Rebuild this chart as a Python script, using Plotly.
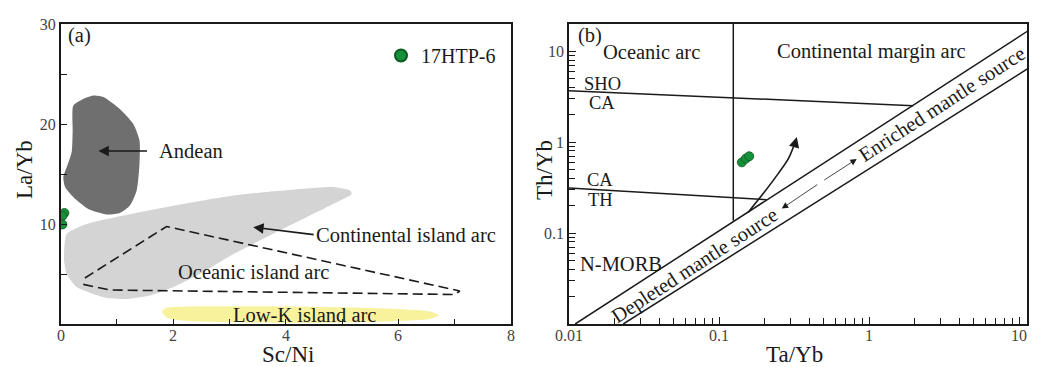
import numpy as np
import plotly.graph_objects as go

FONT = "Liberation Serif, Times New Roman, serif"
INK = "#1a1a1a"
TICK_INK = "#444444"
GREEN = "#17903a"
GREEN_EDGE = "#0b5a22"

# ---------------- panel (a): La/Yb vs Sc/Ni ----------------
sample_scni = [0.065, 0.03, 0.03]
sample_layb = [11.1, 10.8, 9.95]

andean_x = [0.224, 0.213, 0.195, 0.118, 0.047, 0.077, 0.224, 0.49, 0.82, 1.05,
            1.23, 1.35, 1.40, 1.40, 1.29, 1.05, 0.76, 0.58, 0.40, 0.224]
andean_y = [21.85, 19.35, 17.2, 15.85, 14.7, 13.7, 12.7, 11.5, 10.95, 11.1,
            11.85, 13.35, 16.0, 18.35, 20.0, 21.5, 22.7, 22.85, 22.5, 21.85]

cont_arc_x = [0.065, 0.107, 0.46, 0.99, 1.88, 3.07, 4.25, 4.84, 5.14, 5.17, 4.84,
              4.25, 3.66, 3.07, 2.47, 2.0, 1.59, 1.17, 0.82, 0.58, 0.28, 0.107, 0.06, 0.065]
cont_arc_y = [7.68, 9.02, 10.0, 10.7, 11.7, 12.85, 13.5, 13.7, 13.35, 13.0, 12.0,
              10.35, 8.7, 7.0, 5.0, 3.7, 2.85, 2.5, 2.6, 3.0, 3.7, 5.0, 6.35, 7.68]

ocean_arc_x = [0.43, 1.88, 7.09, 7.0, 0.875, 0.37]
ocean_arc_y = [4.6, 9.75, 3.3, 2.95, 3.4, 4.0]

lowk_x = [1.80, 1.85, 2.1, 3.0, 4.0, 5.0, 6.0, 6.55, 6.72, 6.55, 6.0, 5.0, 4.0, 3.0, 2.2, 1.9, 1.80]
lowk_y = [1.2, 1.55, 1.72, 1.78, 1.76, 1.68, 1.5, 1.25, 0.85, 0.5, 0.3, 0.15, 0.12, 0.17, 0.32, 0.6, 1.2]

a_xticks = [0, 1, 2, 3, 4, 5, 6, 7, 8]
a_xlabel_vals = [0, 2, 4, 6, 8]
a_xlabels = ["0", "2", "4", "6", "8"]
a_yticks = [5, 10, 15, 20, 25, 30]
a_ylabels = ["", "10", "", "20", "", "30"]

# ---------------- panel (b): Th/Yb vs Ta/Yb ----------------
sample_tayb = [0.142, 0.151, 0.159]
sample_thyb = [0.60, 0.66, 0.70]

split_x = [0.1245, 0.1245]
split_y = [0.137, 20.0]
mantle_upper_x = [0.011, 11.35]
mantle_upper_y = [0.01, 16.6]
mantle_lower_x = [0.023, 11.35]
mantle_lower_y = [0.01, 6.4]
sho_ca_x = [0.01, 1.97]
sho_ca_y = [3.69, 2.52]
ca_th_x = [0.01, 0.208]
ca_th_y = [0.313, 0.233]
trend_x = [0.1567, 0.197, 0.248, 0.290, 0.313]
trend_y = [0.170, 0.272, 0.451, 0.659, 0.885]
trend_tip = (0.330, 1.14)
mantle_arrow_a = (0.262, 0.186)
mantle_arrow_b = (0.828, 0.653)

b_xticks = [0.01, 0.1, 1, 10]
b_xlabels = ["0.01", "0.1", "1", "10"]
b_yticks = [0.1, 1, 10]
b_ylabels = ["0.1", "1", "10"]
minor_vals = [m * 10.0 ** k for k in range(-2, 2) for m in range(2, 10)]

fig = go.Figure()

# --- panel (a) fields ---
fig.add_trace(go.Scatter(x=cont_arc_x, y=cont_arc_y, fill="toself", mode="lines",
                         fillcolor="#d4d4d4", line=dict(width=0, shape="spline", smoothing=0.6),
                         hoverinfo="skip", showlegend=False, xaxis="x", yaxis="y"))
fig.add_trace(go.Scatter(x=andean_x, y=andean_y, fill="toself", mode="lines",
                         fillcolor="#6f6f6f", line=dict(width=0, shape="spline", smoothing=0.6),
                         hoverinfo="skip", showlegend=False, xaxis="x", yaxis="y"))
fig.add_trace(go.Scatter(x=lowk_x, y=lowk_y, fill="toself", mode="lines",
                         fillcolor="#f8f29c", line=dict(width=0, shape="spline", smoothing=0.8),
                         hoverinfo="skip", showlegend=False, xaxis="x", yaxis="y"))
fig.add_trace(go.Scatter(x=ocean_arc_x, y=ocean_arc_y, mode="lines",
                         line=dict(color=INK, width=1.6, dash="10px,5px"),
                         hoverinfo="skip", showlegend=False, xaxis="x", yaxis="y"))
fig.add_trace(go.Scatter(x=sample_scni, y=sample_layb, mode="markers", name="17HTP-6",
                         marker=dict(size=9, color=GREEN, line=dict(color=GREEN_EDGE, width=0.8)),
                         showlegend=True, xaxis="x", yaxis="y"))

# --- panel (b) boundaries ---
for bx, by in [(split_x, split_y), (mantle_upper_x, mantle_upper_y),
               (mantle_lower_x, mantle_lower_y), (sho_ca_x, sho_ca_y), (ca_th_x, ca_th_y)]:
    fig.add_trace(go.Scatter(x=bx, y=by, mode="lines", line=dict(color=INK, width=1.5),
                             hoverinfo="skip", showlegend=False, xaxis="x2", yaxis="y2"))
fig.add_trace(go.Scatter(x=trend_x, y=trend_y, mode="lines",
                         line=dict(color=INK, width=1.6, shape="spline"),
                         hoverinfo="skip", showlegend=False, xaxis="x2", yaxis="y2"))
fig.add_trace(go.Scatter(x=sample_tayb, y=sample_thyb, mode="markers", name="17HTP-6",
                         marker=dict(size=9, color=GREEN, line=dict(color=GREEN_EDGE, width=0.8)),
                         showlegend=False, xaxis="x2", yaxis="y2"))

ann = []


def txt(x, y, s, ref="", size=20.5, anchor="center", angle=0):
    ann.append(dict(x=x, y=y, xref="x" + ref, yref="y" + ref, text=s, showarrow=False,
                    xanchor=anchor, yanchor="middle", textangle=angle, borderpad=0,
                    font=dict(family=FONT, size=size, color=INK)))


# panel (a) labels
txt(0.12, 28.8, "(a)", anchor="left")
txt(1.73, 17.35, "Andean", anchor="left")
txt(4.52, 8.92, "Continental island arc", anchor="left")
txt(3.43, 5.18, "Oceanic island arc")
txt(4.34, 0.95, "Low-K island arc")
ann.append(dict(x=0.67, y=17.3, ax=1.56, ay=17.3, xref="x", yref="y", axref="x", ayref="y",
                text="", showarrow=True, arrowhead=2, arrowsize=1.3, arrowwidth=1.6, arrowcolor=INK))
ann.append(dict(x=3.42, y=9.68, ax=4.52, ay=8.92, xref="x", yref="y", axref="x", ayref="y",
                text="", showarrow=True, arrowhead=2, arrowsize=1.3, arrowwidth=1.6, arrowcolor=INK))

# panel (b) labels (log axes take log10 positions)
L = np.log10
txt(L(0.0113), L(14.9), "(b)", "2", anchor="left")
txt(L(0.0356), L(9.85), "Oceanic arc", "2")
txt(L(1.04), L(9.85), "Continental margin arc", "2")
txt(L(0.0124), L(4.40), "SHO", "2", size=18.5, anchor="left")
txt(L(0.0134), L(2.68), "CA", "2", size=18.5, anchor="left")
txt(L(0.0129), L(0.380), "CA", "2", size=18.5, anchor="left")
txt(L(0.0131), L(0.230), "TH", "2", size=18.5, anchor="left")
txt(L(0.0117), L(0.046), "N-MORB", "2", anchor="left")
txt(L(0.069), L(0.044), "Depleted mantle source", "2", angle=-33)
txt(L(3.05), L(2.64), "Enriched mantle source", "2", angle=-33)
ann.append(dict(x=L(trend_tip[0]), y=L(trend_tip[1]), xref="x2", yref="y2", ax=-3, ay=11,
                text="", showarrow=True, arrowhead=2, arrowsize=1.3, arrowwidth=1.6, arrowcolor=INK))
ann.append(dict(x=L(mantle_arrow_a[0]), y=L(mantle_arrow_a[1]), xref="x2", yref="y2", ax=37, ay=-25,
                text="", showarrow=True, arrowhead=2, arrowsize=1.6, arrowwidth=0.8, arrowcolor=INK))
ann.append(dict(x=L(mantle_arrow_b[0]), y=L(mantle_arrow_b[1]), xref="x2", yref="y2", ax=-34, ay=22,
                text="", showarrow=True, arrowhead=2, arrowsize=1.6, arrowwidth=0.8, arrowcolor=INK))

# bottom tick labels, set just under the frame
TICK_Y = 1 - 335 / 367
for v, s in zip(a_xlabel_vals, a_xlabels):
    ann.append(dict(x=v, y=TICK_Y, xref="x", yref="paper", text=s, showarrow=False,
                    xanchor="center", yanchor="middle", borderpad=0,
                    font=dict(family=FONT, size=16, color=TICK_INK)))
for v, s in zip(b_xticks, b_xlabels):
    ann.append(dict(x=L(v), y=TICK_Y, xref="x2", yref="paper", text=s, showarrow=False,
                    xanchor="center", yanchor="middle", borderpad=0,
                    font=dict(family=FONT, size=16, color=TICK_INK)))

# axis titles
for x, y, s, ang in [(25 / 1040, 1 - 170 / 367, "La/Yb", -90), (288 / 1040, 1 - 354 / 367, "Sc/Ni", 0),
                     (545 / 1040, 1 - 170 / 367, "Th/Yb", -90), (794 / 1040, 1 - 354 / 367, "Ta/Yb", 0)]:
    ann.append(dict(x=x, y=y, xref="paper", yref="paper", text=s, showarrow=False, textangle=ang,
                    xanchor="center", yanchor="middle", borderpad=0,
                    font=dict(family=FONT, size=23, color=INK)))

frame = dict(showline=True, linecolor=INK, linewidth=1.5, mirror=True, showgrid=False,
             zeroline=False, ticks="inside", tickcolor=INK, tickwidth=1.2, automargin=False,
             tickfont=dict(family=FONT, size=16, color=TICK_INK))
ydom = [1 - 324 / 367, 1 - 24 / 367]

fig.update_layout(
    width=1040, height=367, margin=dict(l=0, r=0, t=0, b=0, autoexpand=False),
    paper_bgcolor="white", plot_bgcolor="white",
    xaxis=dict(domain=[60.7 / 1040, 511 / 1040], range=[0, 8], tickmode="array",
               tickvals=a_xticks, showticklabels=False, ticklen=5, anchor="y", **frame),
    yaxis=dict(domain=ydom, range=[0, 30], tickmode="array", tickvals=a_yticks,
               ticktext=a_ylabels, ticklen=7, anchor="x", **frame),
    xaxis2=dict(domain=[569 / 1040, 1027 / 1040], type="log", range=[-2, 1.053], tickmode="array",
                tickvals=b_xticks, showticklabels=False, ticklen=7, anchor="y2",
                minor=dict(tickmode="array", tickvals=minor_vals, ticks="inside", ticklen=6,
                           tickcolor=INK, tickwidth=1.2), **frame),
    yaxis2=dict(domain=ydom, type="log", range=[-2, 1.30], tickmode="array",
                tickvals=b_yticks, ticktext=b_ylabels, ticklen=7, anchor="x2",
                minor=dict(tickmode="array", tickvals=minor_vals, ticks="inside", ticklen=6,
                           tickcolor=INK, tickwidth=1.2), **frame),
    legend=dict(x=381 / 1040, y=1 - 36 / 367, xanchor="left", yanchor="top",
                bgcolor="rgba(0,0,0,0)", itemsizing="constant",
                font=dict(family=FONT, size=20, color=INK)),
    annotations=ann,
)

fig.write_html("out.html")
